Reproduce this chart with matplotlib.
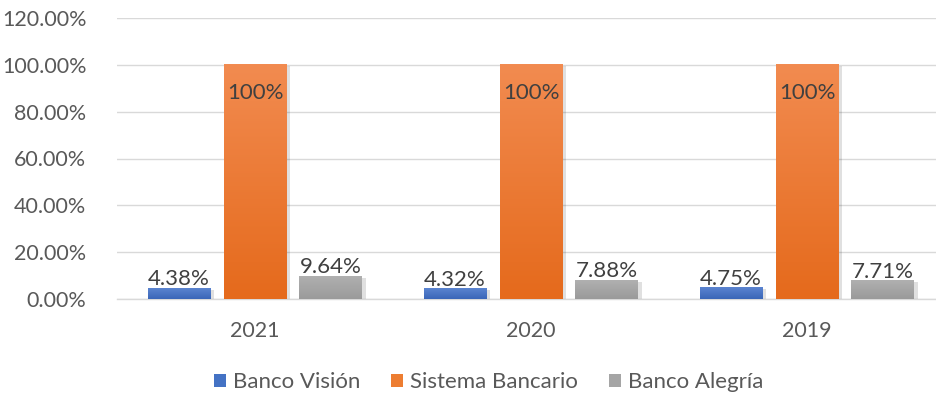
import numpy as np
import matplotlib
matplotlib.use("Agg")
import matplotlib.pyplot as plt
from matplotlib.colors import LinearSegmentedColormap
from matplotlib.ticker import FuncFormatter

# data
years = ["2021", "2020", "2019"]
banco_vision = [4.38, 4.32, 4.75]
sistema_bancario = [100, 100, 100]
banco_alegria = [9.64, 7.88, 7.71]
labels_vision = ["4.38%", "4.32%", "4.75%"]
labels_sistema = ["100%", "100%", "100%"]
labels_alegria = ["9.64%", "7.88%", "7.71%"]

plt.rcParams["font.family"] = ["Lato", "DejaVu Sans"]
text_color = "#595959"

fig = plt.figure(figsize=(9.36, 3.96), dpi=100)
ax = fig.add_axes([117 / 936, 1 - 299 / 396, (936 - 117) / 936, (299 - 18) / 396])

x = np.arange(len(years))
width = 0.228
offset = 0.275

series = [
    ("Banco Visión", banco_vision, labels_vision, "#4472C4", ("#5B84D0", "#3A66B8")),
    ("Sistema Bancario", sistema_bancario, labels_sistema, "#ED7D31", ("#F28B50", "#E56A1C")),
    ("Banco Alegría", banco_alegria, labels_alegria, "#A5A5A5", ("#B0B0B0", "#9A9A9A")),
]

handles = []
for i, (name, vals, labs, col, grad) in enumerate(series):
    pos = x + (i - 1) * offset
    # soft shadow
    ax.bar(pos + 0.012, vals, width, bottom=-0.6, color="#000000", alpha=0.12,
           zorder=2, linewidth=0)
    bars = ax.bar(pos, vals, width, color=col, label=name, zorder=3, linewidth=0)
    handles.append(bars)
    cmap = LinearSegmentedColormap.from_list(name, [grad[1], grad[0]])
    for b in bars:
        x0, w, h = b.get_x(), b.get_width(), b.get_height()
        img = np.linspace(0, 1, 100).reshape(-1, 1)
        ax.imshow(img, cmap=cmap, origin="lower", aspect="auto",
                  extent=(x0, x0 + w, 0, h), zorder=3.5)
    for p, v, t in zip(pos, vals, labs):
        if v >= 100:
            ax.text(p, v - 12, t, ha="center", va="center", fontsize=16,
                    color="#404040", zorder=5)
        else:
            ax.text(p, v - 0.3, t, ha="center", va="bottom", fontsize=16,
                    color="#404040", zorder=5)

ax.set_xlim(-0.5, 2.5 - 9 / 276)
ax.set_ylim(0, 120)
ax.set_yticks(np.arange(0, 121, 20))
ax.yaxis.set_major_formatter(FuncFormatter(lambda v, _: f"{v:.2f}%"))
ax.set_xticks(x)
ax.set_xticklabels(years)
ax.tick_params(axis="both", length=0, labelsize=15.5, labelcolor=text_color)
ax.tick_params(axis="x", pad=16)
ax.tick_params(axis="y", pad=22)
ax.grid(axis="y", color="#D9D9D9", linewidth=1, zorder=0)
ax.set_axisbelow(True)
for s in ["top", "right", "left"]:
    ax.spines[s].set_visible(False)
ax.spines["bottom"].set_color("#D9D9D9")
ax.spines["bottom"].set_linewidth(1)

fig.legend(handles, [s[0] for s in series], loc="center", bbox_to_anchor=(0.522, 0.035),
           ncol=3, frameon=False, fontsize=16, handlelength=0.55, handleheight=0.55,
           handletextpad=0.3, columnspacing=1.4, labelcolor=text_color)

fig.savefig("out.png", dpi=100)
